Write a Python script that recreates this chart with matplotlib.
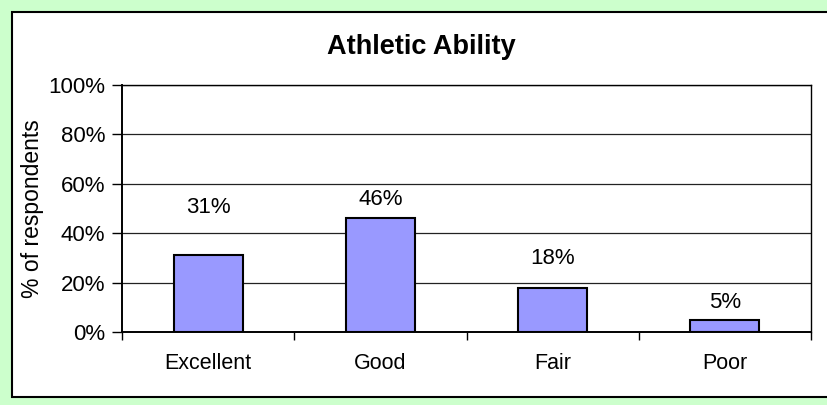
import matplotlib
matplotlib.use("Agg")
import matplotlib.pyplot as plt
from matplotlib.patches import Rectangle
from matplotlib.ticker import FixedLocator, NullFormatter

plt.rcParams['font.family'] = ['Liberation Sans', 'DejaVu Sans']

categories = ["Excellent", "Good", "Fair", "Poor"]
values = [31, 46, 18, 5]
value_labels = ["31%", "46%", "18%", "5%"]
y_ticks = [0, 20, 40, 60, 80, 100]
y_tick_labels = ["0%", "20%", "40%", "60%", "80%", "100%"]

W, H = 827, 405
fig = plt.figure(figsize=(W / 100, H / 100), dpi=100)
fig.patch.set_facecolor("#ccffcc")

# white chart panel with border
panel = Rectangle((12 / W, 8 / H), 1.2, (397 - 12) / H, transform=fig.transFigure,
                  facecolor="white", edgecolor="black", linewidth=1.5, zorder=-5)
fig.patches.append(panel)

ax = fig.add_axes([122 / W, (H - 332) / H, (811 - 122) / W, (332 - 85) / H])
ax.set_zorder(1)
ax.set_facecolor("white")
x = list(range(len(categories)))
ax.bar(x, values, width=0.40, color="#9999ff", edgecolor="black", linewidth=1.5, zorder=3)

ax.set_xlim(-0.5, len(categories) - 0.5)
ax.set_ylim(0, 100)
ax.set_yticks(y_ticks)
ax.set_yticklabels(y_tick_labels, fontsize=16)
ax.yaxis.grid(True, color="#222222", linewidth=0.9, zorder=0)
ax.set_axisbelow(True)

ax.set_xticks(x)
ax.set_xticklabels(categories, fontsize=15.5)
ax.tick_params(axis="x", which="major", length=0, pad=15)
ax.xaxis.set_minor_locator(FixedLocator([i - 0.5 for i in range(len(categories) + 1)]))
ax.xaxis.set_minor_formatter(NullFormatter())
ax.tick_params(axis="x", which="minor", length=6, width=1, color="black", direction="out")
ax.tick_params(axis="y", length=7, width=1, direction="out", pad=5)

for s in ax.spines.values():
    s.set_color("black")
    s.set_linewidth(1.0)
ax.spines["left"].set_linewidth(1.4)
ax.spines["bottom"].set_linewidth(1.4)

ax.set_ylabel("% of respondents", fontsize=16.5)
ax.yaxis.set_label_coords(-(122 - 44) / (811 - 122), 0.5)

# data labels (Excel-style placement, in axis % units)
label_y = [50.6, 53.8, 29.6, 12.1]
for xi, lab, ly in zip(x, value_labels, label_y):
    ax.text(xi, ly, lab, ha="center", va="center", fontsize=16)

fig.text(421 / W, (H - 47) / H, "Athletic Ability", ha="center", va="center",
         fontsize=19.5, fontweight="bold")

fig.savefig("out.png", dpi=100, facecolor=fig.get_facecolor())
